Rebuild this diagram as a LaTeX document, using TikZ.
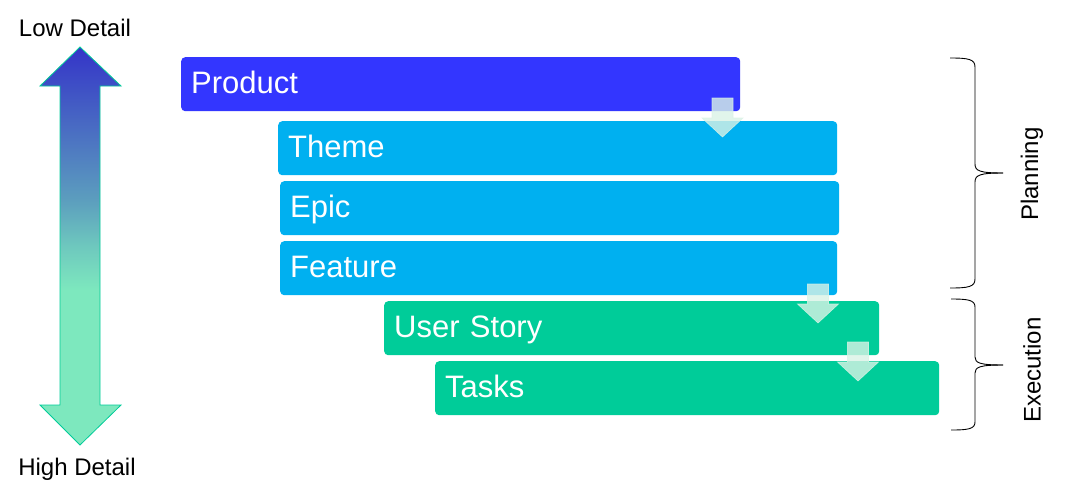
\documentclass[tikz,border=0pt]{standalone}
\usepackage{fontspec}
\setmainfont{Liberation Sans}
\definecolor{prodblue}{RGB}{51,54,255}
\definecolor{planblue}{RGB}{0,176,240}
\definecolor{execgreen}{RGB}{0,204,153}
\definecolor{arrowtop}{RGB}{52,52,200}
\definecolor{arrowmid}{RGB}{92,158,190}
\definecolor{arrowlow}{RGB}{110,200,190}
\definecolor{arrowmint}{RGB}{125,232,190}
\definecolor{arrowedge}{RGB}{0,204,153}
\definecolor{stepmint}{RGB}{218,243,230}
\pgfdeclareverticalshading{detailshade}{100bp}{color(0bp)=(arrowmint); color(44.5bp)=(arrowmint); color(50bp)=(arrowlow); color(55.75bp)=(arrowmid); color(75bp)=(arrowtop); color(100bp)=(arrowtop)}
\begin{document}
\begin{tikzpicture}[x=1pt,y=-1pt,
  levelbox/.style={anchor=north west, rounded corners=4pt, minimum height=54pt,
    inner xsep=10pt, inner ysep=0pt, text width=#1, align=left, text=white,
    font=\fontsize{31}{35}\selectfont, text height=22pt, text depth=4pt},
  sidelabel/.style={font=\fontsize{24}{28}\selectfont, inner sep=0pt},
  bracepath/.style={draw=black, line width=0.9pt},
  stepfill/.style={fill=stepmint, fill opacity=0.8, draw=stepmint, draw opacity=0.8, line width=0.6pt},
  downarrow/.pic={\path[stepfill] (-10.5,0) -- (10.5,0) -- (10.5,20) -- (20.5,20) -- (0,39) -- (-20.5,20) -- (-10.5,20) -- cycle;}
]
\useasboundingbox (0,0) rectangle (1076,490);
\fill[white] (0,0) rectangle (1076,490);

% big double arrow
\shade[shading=detailshade, draw=arrowedge, line width=0.8pt]
  (80,47) -- (121,86) -- (100,86) -- (100,405) -- (121,405) -- (80,445)
  -- (40,405) -- (60,405) -- (60,86) -- (40,86) -- cycle;
\node[sidelabel] (lowlbl) at (75,28) {Low Detail};
\node[sidelabel] (highlbl) at (77,469) {High Detail};

% level boxes
\node[levelbox=539pt, fill=prodblue] (product) at (181,57) {Product};
\node[levelbox=539pt, fill=planblue] (theme) at (278,121) {Theme};
\node[levelbox=539pt, fill=planblue] (epic) at (280,181) {Epic};
\node[levelbox=537pt, fill=planblue] (feature) at (280,241) {Feature};
\node[levelbox=475pt, fill=execgreen] (story) at (384,301) {User Story};
\node[levelbox=484pt, fill=execgreen] (tasks) at (435,361) {Tasks};

% step arrows
\pic at (722.5,98) {downarrow};
\pic at (818,284) {downarrow};
\pic at (858,342) {downarrow};

% braces
\draw[bracepath] (950,58) .. controls (968,58) and (975,59) .. (975,67)
  -- (975,164) .. controls (975,171) and (980,173) .. (1003,173);
\draw[bracepath] (1003,173) .. controls (980,173) and (975,175) .. (975,182)
  -- (975,279) .. controls (975,287) and (968,288) .. (950,288);
\draw[bracepath] (951,299) .. controls (968,299) and (975,300) .. (975,307)
  -- (975,357) .. controls (975,363) and (980,365) .. (1003,365);
\draw[bracepath] (1003,365) .. controls (980,365) and (975,367) .. (975,373)
  -- (975,422) .. controls (975,429) and (968,430) .. (951,430);
\node[sidelabel, rotate=90] (planlbl) at (1032,174) {Planning};
\node[sidelabel, rotate=90] (execlbl) at (1032,370) {Execution};
\end{tikzpicture}
\end{document}
